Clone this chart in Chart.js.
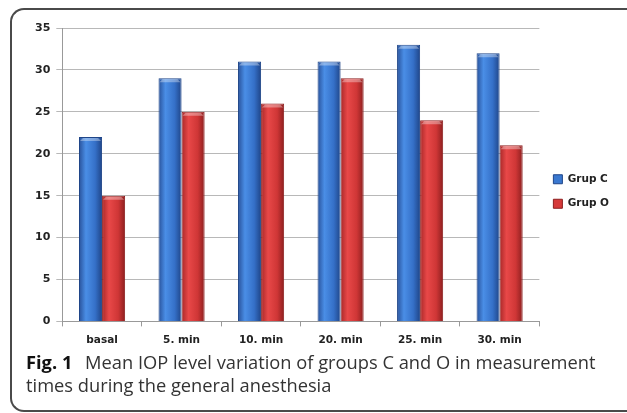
<!DOCTYPE html>
<html>
<head>
<meta charset="utf-8">
<script src="https://cdn.jsdelivr.net/npm/chart.js@4.4.1/dist/chart.umd.min.js"></script>
<style>
  body { margin: 0; background: #fff; width: 627px; height: 413px; overflow: hidden; position: relative; }
  .frame {
    position: absolute; left: 10px; top: 8px; width: 640px; height: 404px;
    border: 2px solid #4a4a4a; border-right: none;
    border-top-left-radius: 14px; border-bottom-left-radius: 14px; box-sizing: border-box;
  }
  .box { position: absolute; left: 12px; top: 14px; width: 615px; height: 341px; }
  .caption {
    position: absolute; left: 26px; top: 350px; width: 590px;
    font-family: "Open Sans", sans-serif; font-size: 18.3px; line-height: 23px; color: #333;
  }
  .caption b { color: #111; font-weight: 700; margin-right: 8px; }
</style>
</head>
<body>
<div class="frame"></div>
<div class="box"><canvas id="chart"></canvas></div>
<div class="caption"><b>Fig. 1</b> Mean IOP level variation of groups C and O in measurement times during the general anesthesia</div>
<script>
const categories = ['basal', '5. min', '10. min', '20. min', '25. min', '30. min'];
const grupC = [22, 29, 31, 31, 33, 32];
const grupO = [15, 25, 26, 29, 24, 21];

// colour stops across each bar: edge, highlight, body, dark edge
const shades = {
    'Grup C': ['#28519a', '#4a8ee6', '#3570c8', '#1f4588'],
    'Grup O': ['#a82828', '#e84848', '#cf3636', '#8c1f1f']
};

const cylinder = {
    id: 'cylinder',
    beforeDatasetsDraw(chart) {
        const c = chart.ctx;
        chart.data.datasets.forEach((ds, i) => {
            const s = shades[ds.label];
            chart.getDatasetMeta(i).data.forEach(bar => {
                const l = bar.x - bar.width / 2, r = bar.x + bar.width / 2;
                const g = c.createLinearGradient(l, 0, r, 0);
                g.addColorStop(0, s[0]);
                g.addColorStop(0.3, s[1]);
                g.addColorStop(0.7, s[2]);
                g.addColorStop(1, s[3]);
                bar.options = Object.assign({}, bar.options, { backgroundColor: g });
            });
        });
    },
    afterDatasetsDraw(chart) {
        const c = chart.ctx;
        chart.data.datasets.forEach((ds, i) => {
            chart.getDatasetMeta(i).data.forEach(bar => {
                const l = bar.x - bar.width / 2;
                c.save();
                c.fillStyle = 'rgba(255,255,255,0.35)';
                c.beginPath();
                c.moveTo(l + 1, bar.y + 4);
                c.lineTo(l + 4, bar.y + 1);
                c.lineTo(l + bar.width - 4, bar.y + 1);
                c.lineTo(l + bar.width - 1, bar.y + 4);
                c.closePath();
                c.fill();
                c.restore();
            });
        });
    }
};

new Chart(document.getElementById('chart'), {
    type: 'bar',
    data: {
        labels: categories,
        datasets: [
            { label: 'Grup C', data: grupC, backgroundColor: '#3a78d0', borderColor: '#1f4588', borderWidth: 1 },
            { label: 'Grup O', data: grupO, backgroundColor: '#d63a3a', borderColor: '#8c1f1f', borderWidth: 1 }
        ]
    },
    options: {
        responsive: true,
        maintainAspectRatio: false,
        animation: false,
        categoryPercentage: 0.58,
        barPercentage: 1,
        layout: { padding: { top: 14, right: 8, bottom: 0, left: 17 } },
        plugins: {
            tooltip: { enabled: false },
            legend: {
                position: 'right',
                labels: {
                    boxWidth: 9, boxHeight: 9, padding: 14,
                    color: '#222',
                    font: { family: 'DejaVu Sans', size: 10.5, weight: 'bold' }
                }
            }
        },
        scales: {
            x: {
                grid: { offset: true, drawOnChartArea: false, drawTicks: true, tickLength: 5, color: '#999' },
                border: { color: '#999' },
                ticks: { color: '#222', padding: 8, font: { family: 'DejaVu Sans', size: 10.5, weight: 'bold' } }
            },
            y: {
                min: 0, max: 35,
                grid: { color: '#b8b8b8', tickLength: 6 },
                border: { color: '#999' },
                ticks: { stepSize: 5, color: '#222', padding: 6, font: { family: 'DejaVu Sans', size: 11, weight: 'bold' } }
            }
        }
    },
    plugins: [cylinder]
});
</script>
</body>
</html>
